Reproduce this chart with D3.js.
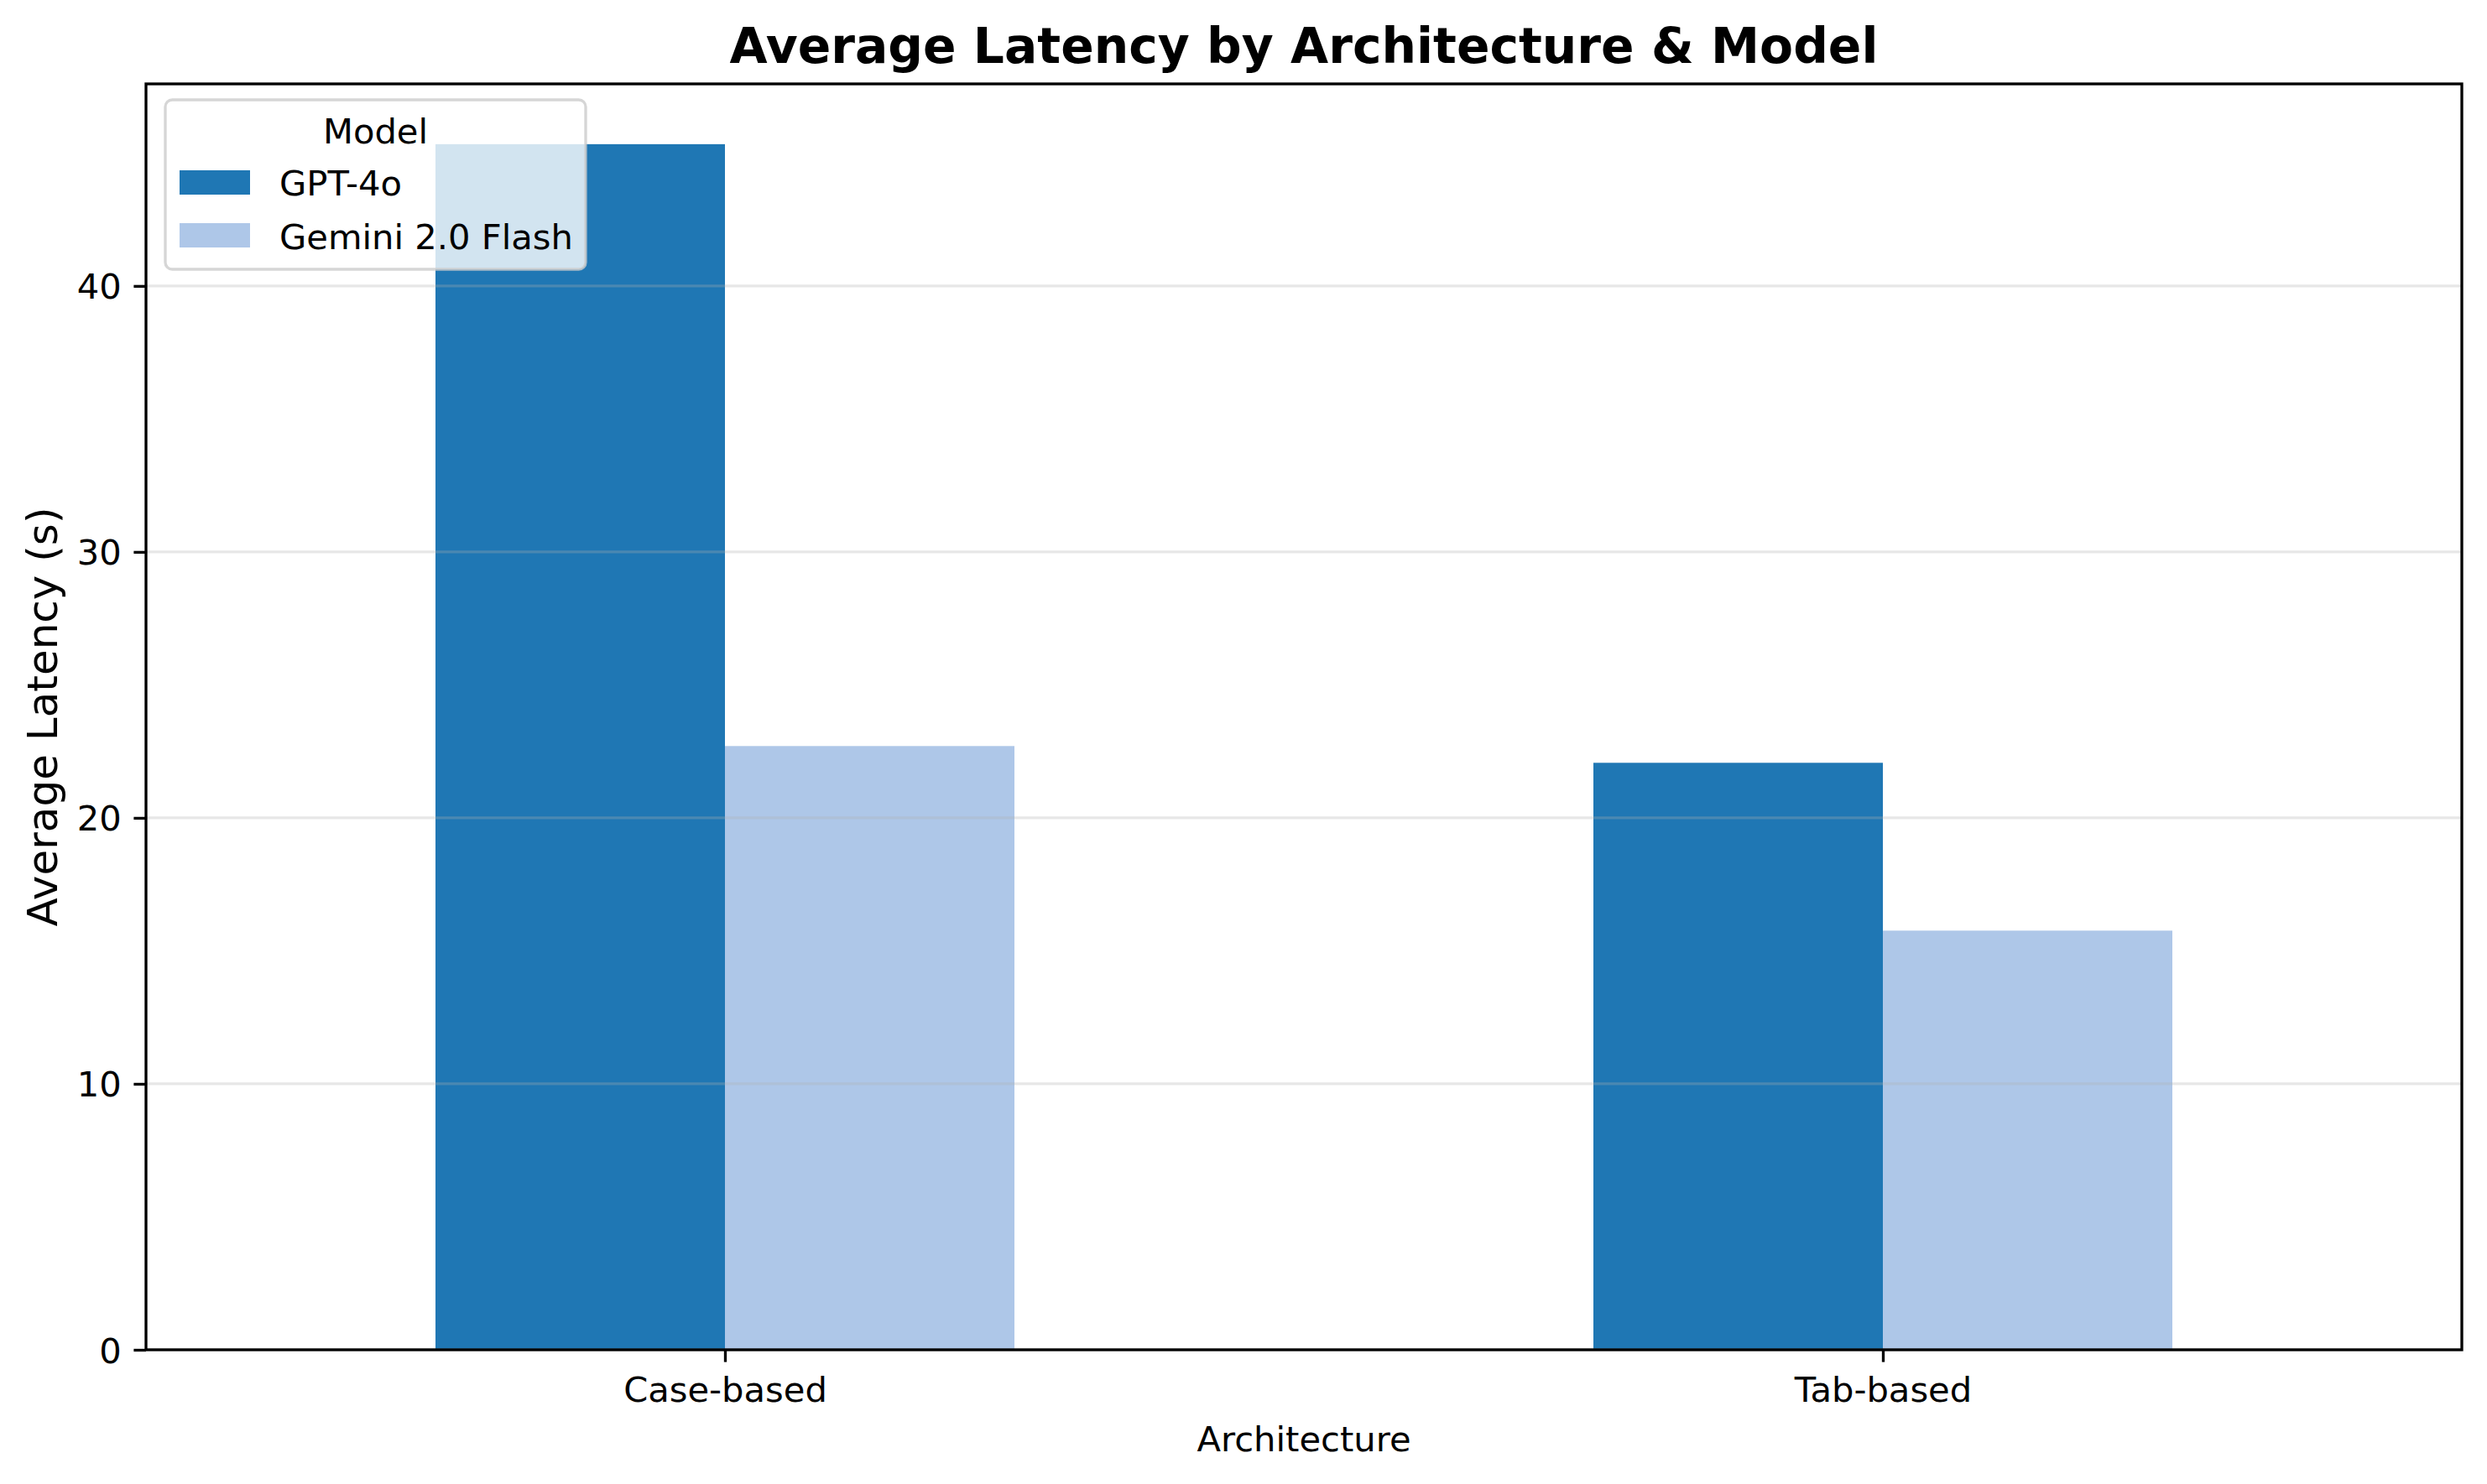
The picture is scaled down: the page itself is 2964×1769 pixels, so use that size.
<!DOCTYPE html>
<html>
<head>
<meta charset="utf-8">
<script src="https://cdn.jsdelivr.net/npm/d3@7"></script>
<style>
    body { margin: 0; background: #fff; }
    text { font-family: "DejaVu Sans", sans-serif; fill: #000; }
</style>
</head>
<body>
<div id="chart_container"></div>
<script>
// chart values
var architectures = ["Case-based", "Tab-based"];
var models = ["GPT-4o", "Gemini 2.0 Flash"];
var gpt4oLatency = [45.33, 22.07];
var geminiLatency = [22.70, 15.76];
var yTicks = [0, 10, 20, 30, 40];
var colors = ["#1f77b4", "#aec7e8"];

draw_bar_chart();

function draw_bar_chart() {
    var chart_width = 2964;
    var chart_height = 1769;
    var margin = {top: 100, right: 30, bottom: 160, left: 174};
    var width = chart_width - margin.left - margin.right;
    var height = chart_height - margin.top - margin.bottom;

    var tickLen = 14.6;
    var lw = 3.33;

    var svg = d3.select("#chart_container")
        .append("svg")
        .attr("width", chart_width)
        .attr("height", chart_height);

    // Title
    svg.append("text")
        .attr("x", margin.left + width / 2)
        .attr("y", 75)
        .attr("text-anchor", "middle")
        .style("font-size", "58.3px")
        .style("font-weight", "bold")
        .text("Average Latency by Architecture & Model");

    var plot = svg.append("g")
        .attr("transform", "translate(" + margin.left + "," + margin.top + ")");

    var series = [gpt4oLatency, geminiLatency];
    var maxVal = d3.max(series, function(s) { return d3.max(s); });

    var x = d3.scaleLinear()
        .domain([-0.5, architectures.length - 0.5])
        .range([0, width]);
    var y = d3.scaleLinear()
        .domain([0, maxVal * 1.05])
        .range([height, 0]);

    var barWidth = 0.25;

    // bars
    series.forEach(function(values, j) {
        plot.selectAll(".bar" + j)
            .data(values)
            .enter()
            .append("rect")
            .attr("class", "bar" + j)
            .attr("x", function(d, i) { return x(i - barWidth + j * barWidth); })
            .attr("width", function(d, i) { return x(i + j * barWidth) - x(i - barWidth + j * barWidth); })
            .attr("y", function(d) { return y(d); })
            .attr("height", function(d) { return y(0) - y(d); })
            .attr("fill", colors[j]);
    });

    // horizontal grid, above the bars like matplotlib
    plot.selectAll(".grid")
        .data(yTicks)
        .enter()
        .append("line")
        .attr("class", "grid")
        .attr("x1", 0)
        .attr("x2", width)
        .attr("y1", function(d) { return y(d); })
        .attr("y2", function(d) { return y(d); })
        .style("stroke", "#b0b0b0")
        .style("stroke-opacity", 0.3)
        .style("stroke-width", lw);

    // Y axis
    var yAxis = d3.axisLeft(y)
        .tickValues(yTicks)
        .tickFormat(d3.format("d"))
        .tickSize(tickLen)
        .tickPadding(tickLen);
    var gy = plot.append("g").call(yAxis);
    gy.select(".domain").remove();
    gy.selectAll(".tick line").style("stroke", "#000").style("stroke-width", lw);
    gy.selectAll(".tick text")
        .style("font-size", "41.67px")
        .style("font-family", "DejaVu Sans")
        .attr("fill", "#000")
        .attr("dy", "0.36em");

    // X axis
    var xAxis = d3.axisBottom(x)
        .tickValues(d3.range(architectures.length))
        .tickFormat(function(d) { return architectures[d]; })
        .tickSize(tickLen)
        .tickPadding(tickLen);
    var gx = plot.append("g")
        .attr("transform", "translate(0," + height + ")")
        .call(xAxis);
    gx.select(".domain").remove();
    gx.selectAll(".tick line").style("stroke", "#000").style("stroke-width", lw);
    gx.selectAll(".tick text")
        .style("font-size", "41.67px")
        .style("font-family", "DejaVu Sans")
        .attr("fill", "#000")
        .attr("dy", "0.78em");

    // spines
    plot.append("rect")
        .attr("x", 0)
        .attr("y", 0)
        .attr("width", width)
        .attr("height", height)
        .attr("fill", "none")
        .style("stroke", "#000")
        .style("stroke-width", lw);

    // axis labels
    svg.append("text")
        .attr("x", margin.left + width / 2)
        .attr("y", 1730)
        .attr("text-anchor", "middle")
        .style("font-size", "41.67px")
        .text("Architecture");

    svg.append("text")
        .attr("transform", "translate(68," + (margin.top + height / 2) + ") rotate(-90)")
        .attr("text-anchor", "middle")
        .style("font-size", "50px")
        .text("Average Latency (s)");

    // legend
    var legend = svg.append("g")
        .attr("transform", "translate(197,119)");

    legend.append("rect")
        .attr("width", 501)
        .attr("height", 202)
        .attr("rx", 8.3)
        .attr("ry", 8.3)
        .attr("fill", "#fff")
        .attr("fill-opacity", 0.8)
        .style("stroke", "#cccccc")
        .style("stroke-opacity", 0.8)
        .style("stroke-width", lw);

    legend.append("text")
        .attr("x", 250.5)
        .attr("y", 52)
        .attr("text-anchor", "middle")
        .style("font-size", "41.67px")
        .text("Model");

    legend.selectAll(".swatch")
        .data(models)
        .enter()
        .append("rect")
        .attr("class", "swatch")
        .attr("x", 17)
        .attr("y", function(d, i) { return 84 + i * 63; })
        .attr("width", 84)
        .attr("height", 29)
        .attr("fill", function(d, i) { return colors[i]; });

    legend.selectAll(".label")
        .data(models)
        .enter()
        .append("text")
        .attr("class", "label")
        .attr("x", 136)
        .attr("y", function(d, i) { return 114 + i * 64; })
        .style("font-size", "41.67px")
        .text(function(d) { return d; });
}
</script>
</body>
</html>
